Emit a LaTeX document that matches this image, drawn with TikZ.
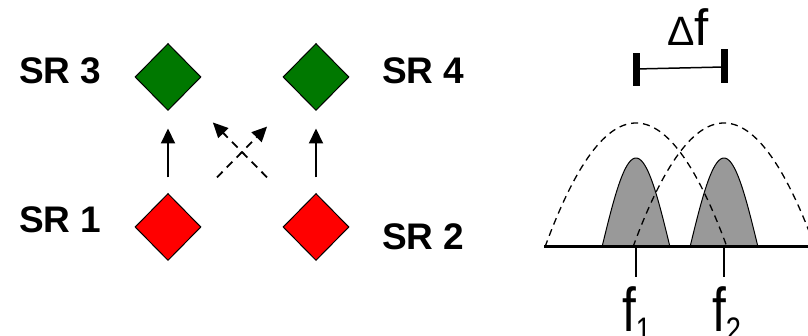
\documentclass[tikz,border=0pt]{standalone}
\usepackage{fontspec}
\setmainfont{Liberation Sans}
\usepackage{xcolor}
\usepackage{tikz}
\usetikzlibrary{arrows.meta, positioning, shapes.geometric}

\definecolor{srgreen}{RGB}{0,120,0}
\definecolor{srred}{RGB}{255,0,0}

\tikzset{
  srnode/.style={diamond, draw=black, line width=1pt, minimum width=66pt, minimum height=67pt, inner sep=0pt},
  srlabel/.style={font=\fontsize{37}{40}\selectfont\bfseries, inner sep=0pt, anchor=west},
  flow/.style={-{Triangle[length=15pt,width=14pt]}, line width=2pt},
  crossflow/.style={flow, line width=1.8pt, dash pattern=on 8pt off 6pt},
}

\begin{document}
\begin{tikzpicture}[x=1pt, y=1pt]
  \useasboundingbox (0,0) rectangle (808,336);
  \clip (0,0) rectangle (808,336);
  % signal regions, red sources at the bottom, green targets on top
  \node[srnode, fill=srred]   (sr1) at (168,109) {};
  \node[srnode, fill=srred]   (sr2) at (316,109) {};
  \node[srnode, fill=srgreen] (sr3) at (168,259) {};
  \node[srnode, fill=srgreen] (sr4) at (316,259) {};
  \node[srlabel] (lab1) at (19,116) {SR 1};
  \node[srlabel] (lab2) at (382,99) {SR 2};
  \node[srlabel] (lab3) at (19,265) {SR 3};
  \node[srlabel] (lab4) at (382,265) {SR 4};
  % straight and crossed links
  \draw[flow, shorten <=15.5pt, shorten >=17.5pt] (sr1) -- (sr3);
  \draw[flow, shorten <=15.5pt, shorten >=17.5pt] (sr2) -- (sr4);
  \draw[crossflow, shorten <=45.8pt, shorten >=45.8pt] (sr1) -- (sr4);
  \draw[crossflow, shorten <=45.8pt, shorten >=40pt] (sr2) -- (sr3);

  % spectrum: carriers at f1, f2
  \coordinate (f1) at (636,89);
  \coordinate (f2) at (724,89);
  \foreach \c in {636,724} {
    \filldraw[fill=black!40, draw=black, line width=1pt]
      plot[domain=-34:34, samples=50] ({\c+\x},{89+89*cos(90*\x/34)}) -- cycle;
  }
  \foreach \c in {636,724} {
    \draw[line width=1.3pt, dash pattern=on 7pt off 5pt]
      plot[domain=-91:91, samples=80] ({\c+\x},{89+124*(1-(\x/91)^2)});
  }
  \draw[line width=3pt] (544,89) -- (808,89);
  \draw[line width=2pt] (f1) -- ++(0,-30);
  \draw[line width=2pt] (f2) -- ++(0,-30);
  \node[inner sep=0pt, anchor=base west] (lf1) at (622,4)
    {\scalebox{0.8}[1]{\fontsize{62}{62}\selectfont f\raisebox{-10pt}{\fontsize{34}{34}\selectfont 1}}};
  \node[inner sep=0pt, anchor=base west] (lf2) at (712,4)
    {\scalebox{0.8}[1]{\fontsize{62}{62}\selectfont f\raisebox{-10pt}{\fontsize{34}{34}\selectfont 2}}};
  % spacing bar
  \draw[line width=7pt] (636,250) -- (636,283);
  \draw[line width=7pt] (724,253) -- (724,287);
  \draw[line width=1.5pt] (636,267) -- (724,269);
  \node[inner sep=0pt, anchor=base west] (df) at (667,290)
    {{\fontsize{41}{41}\selectfont Δ}{\fontsize{51}{51}\selectfont f}};
\end{tikzpicture}
\end{document}
